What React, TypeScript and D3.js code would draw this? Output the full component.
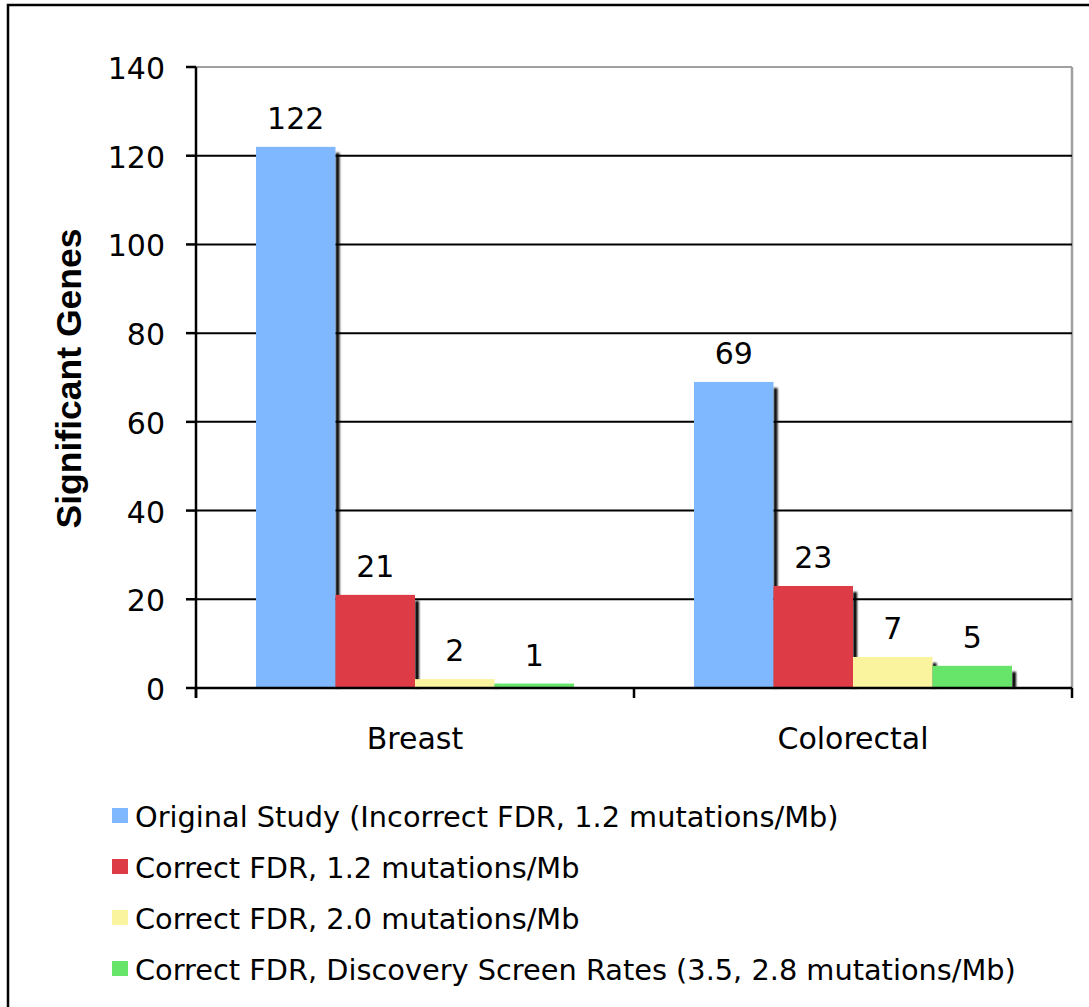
import React from "react";
import * as d3 from "d3";

const categories = ["Breast", "Colorectal"];
const seriesNames = [
  "Original Study (Incorrect FDR, 1.2 mutations/Mb)",
  "Correct FDR, 1.2 mutations/Mb",
  "Correct FDR, 2.0 mutations/Mb",
  "Correct FDR, Discovery Screen Rates (3.5, 2.8 mutations/Mb)",
];
const seriesColors = ["#80b8ff", "#dd3c46", "#fbf49e", "#66e56a"];
const breastValues = [122, 21, 2, 1];
const colorectalValues = [69, 23, 7, 5];
const yTicks = [0, 20, 40, 60, 80, 100, 120, 140];
const yTitle = "Significant Genes";

const W = 1089;
const H = 1007;
const left = 196;
const right = 1072;
const top = 67;
const bottom = 688;
const FONT = "'DejaVu Sans', Verdana, sans-serif";

export default function App() {
  const values = [breastValues, colorectalValues];
  const y = d3.scaleLinear().domain([0, 140]).range([bottom, top]);
  const x0 = d3.scaleBand<string>().domain(categories).range([left, right]).paddingInner(0).paddingOuter(0);
  const groupPad = 60;
  const x1 = d3
    .scaleBand<number>()
    .domain(d3.range(seriesNames.length))
    .range([groupPad, x0.bandwidth() - groupPad])
    .padding(0);

  return (
    <svg
      width={W}
      height={H}
      style={{ position: "absolute", left: 0, top: 0, background: "#fff" }}
      fontFamily={FONT}
    >
      <defs>
        <filter id="sh" x="-50%" y="-50%" width="200%" height="200%">
          <feGaussianBlur stdDeviation="0.8" />
        </filter>
      </defs>
      <rect x={8} y={5} width={W + 20} height={H + 20} fill="#fff" stroke="#000" strokeWidth={2.5} />
      {/* plot frame */}
      <line x1={left} x2={right} y1={y(140)} y2={y(140)} stroke="#a0a0a0" strokeWidth={2} />
      <line x1={right} x2={right} y1={top} y2={bottom} stroke="#a0a0a0" strokeWidth={2.5} />
      {yTicks.filter((t) => t > 0 && t < 140).map((t) => (
        <line key={t} x1={left} x2={right} y1={y(t)} y2={y(t)} stroke="#000" strokeWidth={2} />
      ))}
      {/* bars */}
      {categories.map((c, ci) => (
        <g key={c} transform={`translate(${x0(c)},0)`}>
          {values[ci].map((v, si) => {
            const bx = x1(si)!;
            const bw = x1.bandwidth();
            return (
              <g key={si}>
                <rect
                  x={bx + bw}
                  y={y(v) + 6}
                  width={4}
                  height={bottom - y(v) - 6}
                  fill="#000"
                  filter="url(#sh)"
                />
                <rect x={bx} y={y(v)} width={bw} height={bottom - y(v)} fill={seriesColors[si]} />
                <text
                  x={bx + bw / 2}
                  y={y(v) - 18}
                  textAnchor="middle"
                  fontSize={30}
                  fill="#000"
                >
                  {v}
                </text>
              </g>
            );
          })}
        </g>
      ))}
      {/* axes */}
      <line x1={left} x2={left} y1={top} y2={bottom + 10} stroke="#000" strokeWidth={2.5} />
      <line x1={left} x2={right} y1={bottom} y2={bottom} stroke="#000" strokeWidth={2.5} />
      {yTicks.map((t) => (
        <g key={t}>
          <line x1={left - 10} x2={left} y1={y(t)} y2={y(t)} stroke="#000" strokeWidth={2.5} />
          <text x={left - 31} y={y(t) + 12} textAnchor="end" fontSize={30} fill="#000">
            {t}
          </text>
        </g>
      ))}
      {[left, left + x0.bandwidth(), right].map((xx, i) => (
        <line key={i} x1={xx} x2={xx} y1={bottom} y2={bottom + 10} stroke="#000" strokeWidth={2.5} />
      ))}
      {categories.map((c) => (
        <text key={c} x={x0(c)! + x0.bandwidth() / 2} y={749} textAnchor="middle" fontSize={30} fill="#000">
          {c}
        </text>
      ))}
      <text
        transform={`translate(81,${378.5}) rotate(-90)`}
        textAnchor="middle"
        fontSize={35.5}
        fontWeight="bold"
        fontFamily="'Liberation Sans', Arial, sans-serif"
        fill="#000"
      >
        {yTitle}
      </text>
      {/* legend */}
      {seriesNames.map((n, i) => {
        const ly = 817 + i * 51;
        return (
          <g key={n}>
            <rect x={112} y={ly - 9} width={16} height={15} fill={seriesColors[i]} />
            <text x={135} y={ly + 10} fontSize={28.8} fill="#000">
              {n}
            </text>
          </g>
        );
      })}
    </svg>
  );
}
